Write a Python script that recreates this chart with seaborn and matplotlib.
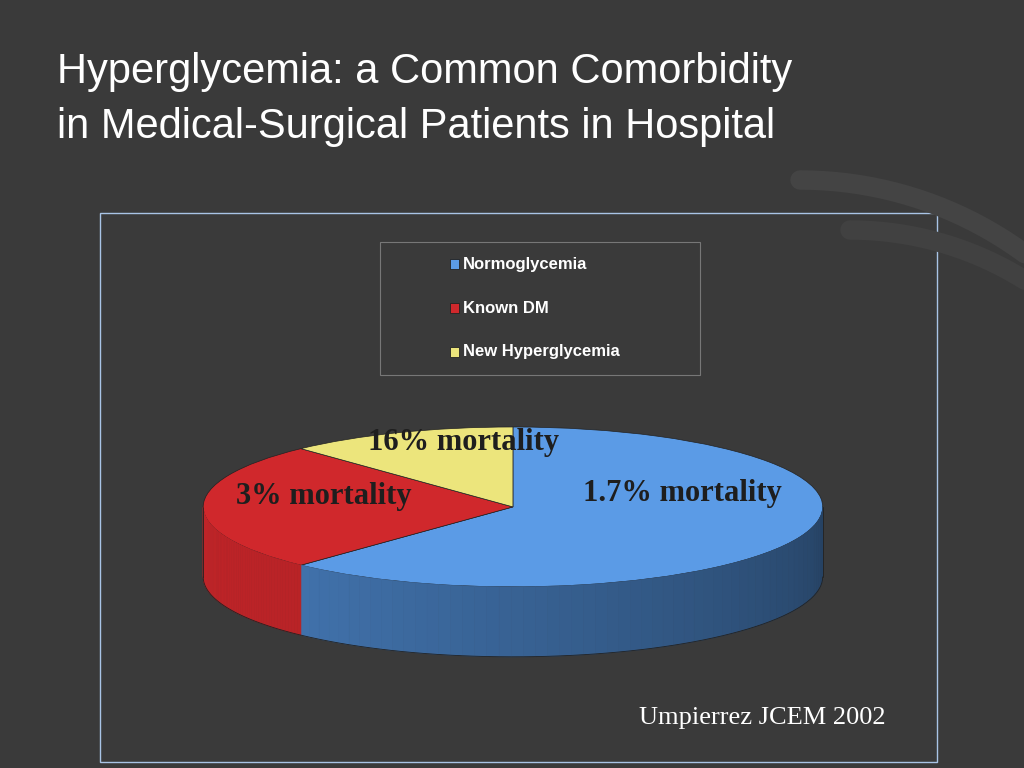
import numpy as np
import matplotlib.pyplot as plt
import matplotlib.colors as mcolors
from matplotlib.patches import Rectangle, Polygon
import seaborn as sns

categories = ["Normoglycemia", "Known DM", "New Hyperglycemia"]
shares = [62, 26, 12]
mortality = ["1.7% mortality", "3% mortality", "16% mortality"]
colors = ["#5b9be6", "#d0282c", "#ece57c"]
wall_colors = ["#4a82c4", "#c02428", "#c9c366"]

sns.set_style("dark")
bg = "#3a3a3a"
fig = plt.figure(figsize=(10.24, 7.68), dpi=100)
fig.patch.set_facecolor(bg)

# faint decorative arcs on the right
deco = fig.add_axes([0, 0, 1, 1])
deco.set_xlim(0, 1024)
deco.set_ylim(768, 0)
deco.axis("off")
for r, c in [(380, "#444444"), (330, "#414141")]:
    t = np.linspace(-np.pi / 2, np.pi / 2, 200)
    deco.plot(1180 + r * np.cos(t) - r, 560 + r * np.sin(t), color=c, lw=14)
deco.add_patch(Rectangle((100, 213), 837, 549, fill=False, ec="#a9c4e6", lw=1))
deco.add_patch(Rectangle((380, 242), 320, 133, facecolor=bg, ec="#777777", lw=0.8))

fig.text(0.056, 0.906, "Hyperglycemia: a Common Comorbidity", color="white",
         fontsize=30, family="Liberation Sans", va="center")
fig.text(0.056, 0.835, "in Medical-Surgical Patients in Hospital", color="white",
         fontsize=30, family="Liberation Sans", va="center")
fig.text(0.865, 0.065, "Umpierrez JCEM 2002", color="white", fontsize=19,
         family="Liberation Serif", ha="right", va="center")

# legend
for i, name in enumerate(categories):
    y = 1 - (264 + 44 * i) / 768
    deco.add_patch(Rectangle((450, 264 + 44 * i - 5), 9, 10, facecolor=colors[i],
                             ec="#222222", lw=0.6))
    fig.text(463 / 1024, y, name, color="white", fontsize=12, weight="bold",
             family="Liberation Sans", va="center")

# pie
ax = fig.add_axes([197 / 1024, 1 - 690 / 768, 635 / 1024, 295 / 768])
h = 0.875
wedges, _ = ax.pie(shares, colors=colors, startangle=90, counterclock=False,
                   wedgeprops=dict(linewidth=0.5, edgecolor="#222222"))
ax.axis("on")
ax.set_facecolor(bg)
ax.set_xticks([])
ax.set_yticks([])
for s in ax.spines.values():
    s.set_visible(True)
    s.set_color("black")
    s.set_linewidth(1.2)
ax.set_aspect("auto")
ax.set_xlim(-1.02, 1.03)
ax.set_ylim(-2.29, 1.4)

# side walls for the front half
for w, base in zip(wedges, wall_colors):
    a1, a2 = sorted([w.theta1 % 360, w.theta2 % 360])
    lo, hi = max(a1, 180), min(a2, 360)
    if w.theta2 % 360 < w.theta1 % 360:
        lo, hi = max(w.theta1 % 360, 180), 360
    if hi <= lo:
        continue
    steps = np.linspace(lo, hi, 60)
    for k in range(len(steps) - 1):
        t = np.radians([steps[k], steps[k + 1]])
        frac = (steps[k] - 180) / 180
        shade = mcolors.to_rgb(base)
        dark = 1 - 0.5 * frac if base == wall_colors[0] else 1 - 0.15 * frac
        col = tuple(c * dark for c in shade)
        xs = np.cos(t)
        ys = np.sin(t)
        ax.add_patch(Polygon([(xs[0], ys[0]), (xs[1], ys[1]), (xs[1], ys[1] - h),
                              (xs[0], ys[0] - h)], facecolor=col, edgecolor=col, lw=0.5))
    t = np.radians(steps)
    ax.plot(np.cos(t), np.sin(t) - h, color="#222222", lw=0.6)
for x in (-1, 1):
    ax.plot([x, x], [0, -h], color="#222222", lw=0.6)

label_pos = [(0.765, 0.665), (0.2, 0.655), (0.42, 0.84)]
for txt, (x, y) in zip(mortality, label_pos):
    ax.text(x, y, txt, transform=ax.transAxes, ha="center", va="center",
            fontsize=22, weight="bold", family="Liberation Serif", color="#1e1e1e")

fig.savefig("out.png", dpi=100, facecolor=bg)
